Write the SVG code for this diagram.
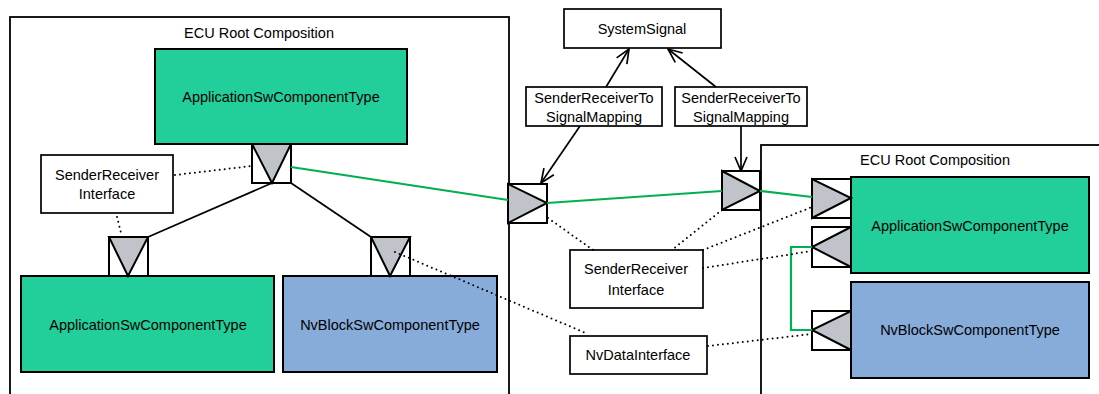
<svg xmlns="http://www.w3.org/2000/svg" width="1099" height="394" viewBox="0 0 1099 394">
<style>
.bg{fill:#fff}
.frame{fill:#fff;stroke:#000;stroke-width:1.8}
.box{fill:#fff;stroke:#000;stroke-width:1.7}
.app{fill:#22cf9a;stroke:#000;stroke-width:2}
.nvb{fill:#88acda;stroke:#000;stroke-width:2}
.port{fill:#fff;stroke:#000;stroke-width:2}
.tri{fill:#c0c4ca;stroke:#000;stroke-width:2;stroke-linejoin:miter}
.t{font-family:"Liberation Sans",Arial,sans-serif;font-size:14.5px;fill:#000;text-anchor:middle;dominant-baseline:central}
.solid{stroke:#000;stroke-width:1.7;fill:none}
.green{stroke:#00b050;stroke-width:2.2;fill:none}
.dot{stroke:#000;stroke-width:2;fill:none;stroke-dasharray:0 5;stroke-linecap:round}
</style>
<defs>
<marker id="arr" markerUnits="userSpaceOnUse" markerWidth="16" markerHeight="14" viewBox="0 0 16 14" refX="15" refY="7" orient="auto">
<path d="M1,1 L15,7 L1,13" fill="none" stroke="#000" stroke-width="1.7"/>
</marker>
</defs>
<rect class="bg" x="0" y="0" width="1099" height="394"/>

<g id="ecu-left">
<rect class="frame" x="10" y="17" width="499" height="390"/>
<text class="t" x="259" y="33">ECU Root Composition</text>
</g>
<g id="ecu-right">
<rect class="frame" x="761" y="145" width="350" height="260"/>
<text class="t" x="935" y="160">ECU Root Composition</text>
</g>

<g id="app-top">
<rect class="app" x="155" y="49" width="252" height="95"/>
<text class="t" x="281" y="97">ApplicationSwComponentType</text>
<rect class="port" x="252" y="144" width="39" height="39"/>
<polygon class="tri" points="252,144 291,144 272,183"/>
</g>

<g id="sr-interface-left">
<rect class="box" x="41" y="155" width="132" height="58"/>
<text class="t" x="107" y="175">SenderReceiver</text>
<text class="t" x="107" y="194">Interface</text>
</g>

<g id="app-bottom">
<rect class="app" x="21" y="276" width="253" height="96"/>
<text class="t" x="148" y="325">ApplicationSwComponentType</text>
<rect class="port" x="109" y="237" width="39" height="39"/>
<polygon class="tri" points="109,237 148,237 128,276"/>
</g>

<g id="nvblock-bottom">
<rect class="nvb" x="283" y="276" width="214" height="96"/>
<text class="t" x="390" y="325">NvBlockSwComponentType</text>
<rect class="port" x="371" y="237" width="39" height="39"/>
<polygon class="tri" points="371,237 410,237 390,276"/>
</g>

<g id="port-left-out">
<rect class="port" x="508" y="184" width="39" height="39"/>
<polygon class="tri" points="508,184 508,223 547,203"/>
</g>

<g id="port-right-in">
<rect class="port" x="722" y="171" width="38" height="39"/>
<polygon class="tri" points="722,171 722,210 760,191"/>
</g>

<g id="system-signal">
<rect class="box" x="564" y="9" width="157" height="39"/>
<text class="t" x="642" y="29">SystemSignal</text>
</g>

<g id="mapping-left">
<rect class="box" x="526" y="87" width="136" height="39"/>
<text class="t" x="594" y="98">SenderReceiverTo</text>
<text class="t" x="594" y="117">SignalMapping</text>
</g>

<g id="mapping-right">
<rect class="box" x="675" y="87" width="132" height="39"/>
<text class="t" x="741" y="98">SenderReceiverTo</text>
<text class="t" x="741" y="117">SignalMapping</text>
</g>

<g id="sr-interface-mid">
<rect class="box" x="570" y="250" width="133" height="58"/>
<text class="t" x="636" y="269">SenderReceiver</text>
<text class="t" x="636" y="290">Interface</text>
</g>

<g id="nvdata-interface">
<rect class="box" x="570" y="336" width="137" height="38"/>
<text class="t" x="638" y="355">NvDataInterface</text>
</g>

<g id="app-right">
<rect class="app" x="851" y="177" width="238" height="96"/>
<text class="t" x="970" y="226">ApplicationSwComponentType</text>
<rect class="port" x="812" y="179" width="39" height="39"/>
<polygon class="tri" points="812,179 812,218 851,198"/>
<rect class="port" x="812" y="227" width="39" height="40"/>
<polygon class="tri" points="851,227 851,267 812,247"/>
</g>

<g id="nvblock-right">
<rect class="nvb" x="851" y="282" width="238" height="96"/>
<text class="t" x="970" y="330">NvBlockSwComponentType</text>
<rect class="port" x="812" y="311" width="39" height="39"/>
<polygon class="tri" points="851,311 851,350 812,330"/>
</g>

<g id="connectors">
<line class="solid" x1="272" y1="183" x2="148" y2="237"/>
<line class="solid" x1="291" y1="183" x2="371" y2="237"/>
<line class="solid" x1="606" y1="87" x2="629" y2="49" marker-end="url(#arr)"/>
<line class="solid" x1="716" y1="87" x2="668" y2="49" marker-end="url(#arr)"/>
<line class="solid" x1="580" y1="126" x2="541" y2="183" marker-end="url(#arr)"/>
<line class="solid" x1="741" y1="126" x2="741" y2="171" marker-end="url(#arr)"/>
<polyline class="green" points="291,167 508,200"/>
<polyline class="green" points="547,203 722,191"/>
<polyline class="green" points="760,191 812,197"/>
<polyline class="green" points="812,247 791,247 791,330 812,330"/>
<line class="dot" x1="175" y1="175" x2="252" y2="166"/>
<line class="dot" x1="117" y1="217" x2="121" y2="233"/>
<line class="dot" x1="395" y1="252" x2="588" y2="334"/>
<line class="dot" x1="548" y1="218" x2="593" y2="250"/>
<line class="dot" x1="722" y1="210" x2="672" y2="250"/>
<line class="dot" x1="703" y1="250" x2="812" y2="207"/>
<line class="dot" x1="703" y1="268" x2="812" y2="251"/>
<line class="dot" x1="708" y1="346" x2="812" y2="334"/>
</g>
</svg>
